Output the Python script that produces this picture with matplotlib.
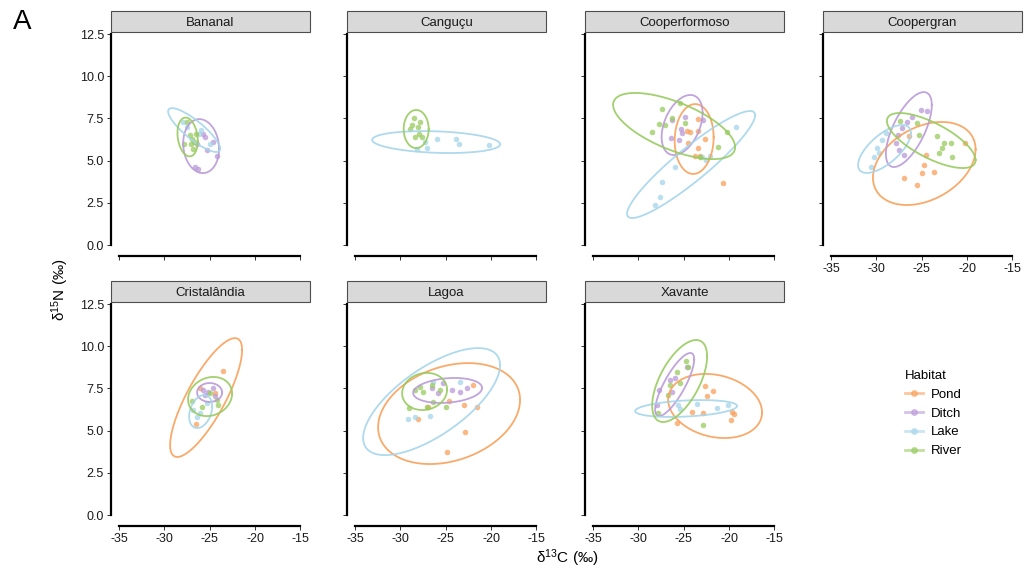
import numpy as np
import matplotlib.pyplot as plt
from matplotlib.lines import Line2D
from matplotlib.patches import Rectangle

plt.rcParams["font.family"] = ["Liberation Sans", "DejaVu Sans"]
plt.rcParams["mathtext.fontset"] = "custom"
plt.rcParams["mathtext.rm"] = "Liberation Sans"
plt.rcParams["mathtext.default"] = "regular"
plt.rcParams["axes.unicode_minus"] = False

sites = ["Bananal", "Canguçu", "Cooperformoso", "Coopergran",
         "Cristalândia", "Lagoa", "Xavante"]
habitats = ["Pond", "Ditch", "Lake", "River"]
habitat_colors = ["#F9A15B", "#B99AD8", "#A6D5EA", "#98CB5F"]

x_ticks = [-35, -30, -25, -20, -15]
y_ticks = [0.0, 2.5, 5.0, 7.5, 10.0, 12.5]

# isotope samples per habitat: site -> (d13C, d15N)
pond_samples = {
    "Cooperformoso": ([-23.4, -24.6, -24.3, -23.4, -22.65, -24.5, -23.4, -23.75, -23.2, -20.67],
                      [7.46, 6.75, 6.69, 6.75, 6.28, 6.04, 5.75, 5.27, 5.27, 3.67]),
    "Coopergran": ([-24.56, -24.78, -23.68, -25.0, -26.98, -25.55, -20.27, -26.43],
                   [5.33, 4.74, 4.32, 4.27, 3.97, 3.55, 6.04, 6.46]),
    "Cristalândia": ([-23.53, -26.51, -26.07, -24.42],
                     [8.53, 5.39, 7.52, 7.23]),
    "Lagoa": ([-28.05, -26.95, -22.98, -21.55, -22.87, -24.86, -22.0, -24.64],
              [5.69, 6.4, 6.52, 6.4, 4.92, 3.73, 7.7, 6.75]),
    "Xavante": ([-22.65, -21.77, -22.43, -24.09, -22.87, -19.67, -19.45, -19.78, -25.74],
                [7.64, 7.35, 7.05, 6.1, 6.04, 6.1, 5.98, 5.63, 5.45]),
}
ditch_samples = {
    "Bananal": ([-25.8, -24.7, -25.3, -24.2, -26.6, -26.3, -26.4, -25.5],
                [6.6, 6.1, 5.6, 5.3, 4.6, 4.5, 6.0, 6.4]),
    "Cooperformoso": ([-26.3, -24.86, -25.3, -25.2, -26.4, -22.9, -25.5],
                      [7.4, 7.58, 6.87, 6.64, 6.34, 7.4, 6.2]),
    "Coopergran": ([-25.11, -24.45, -26.1, -26.65, -27.2, -27.6, -27.86, -27.5, -27.0],
                   [8.0, 7.94, 7.58, 7.29, 6.93, 6.52, 6.04, 5.63, 5.33]),
    "Cristalândia": ([-25.74, -25.19, -24.64, -25.52, -24.42],
                     [7.41, 7.29, 7.52, 7.11, 7.05]),
    "Lagoa": ([-24.3, -23.42, -22.65, -25.85, -25.3, -26.5],
              [7.41, 7.29, 7.52, 7.23, 7.82, 7.52]),
    "Xavante": ([-24.64, -26.5, -25.96, -26.29, -27.72, -27.94],
                [8.77, 8.0, 8.12, 7.29, 7.41, 6.52]),
}
lake_samples = {
    "Bananal": ([-27.5, -26.2, -25.0, -28.0, -26.0],
                [7.0, 6.6, 6.0, 7.3, 6.8]),
    "Canguçu": ([-27.3, -27.1, -26.0, -23.9, -23.5, -20.2, -28.2],
                [6.1, 5.75, 6.3, 6.3, 6.0, 5.9, 5.7]),
    "Cooperformoso": ([-19.2, -22.1, -22.5, -25.96, -27.4, -27.6, -28.2, -23.0],
                      [7.0, 5.27, 5.04, 4.62, 3.73, 2.84, 2.37, 5.21]),
    "Coopergran": ([-29.95, -29.73, -30.6, -28.96, -29.4, -30.27],
                   [5.75, 5.45, 4.62, 6.64, 6.22, 5.21]),
    "Cristalândia": ([-26.84, -26.07, -26.4, -25.3],
                     [6.22, 6.04, 5.81, 6.64]),
    "Lagoa": ([-29.16, -28.4, -26.73, -23.42, -26.4],
              [5.69, 5.81, 5.87, 7.88, 7.88]),
    "Xavante": ([-25.63, -23.53, -21.33, -20.12, -25.4],
                [6.52, 6.58, 6.34, 6.52, 6.28]),
}
river_samples = {
    "Bananal": ([-27.5, -27.2, -27.0, -27.1, -26.7, -26.9, -27.8, -26.5],
                [7.3, 6.5, 6.3, 6.0, 6.1, 5.7, 6.0, 6.6]),
    "Canguçu": ([-28.5, -27.9, -28.9, -28.0, -28.4, -27.6, -28.7, -28.1],
                [7.5, 7.3, 6.9, 6.6, 6.4, 6.4, 7.1, 7.0]),
    "Cooperformoso": ([-27.39, -28.5, -27.72, -27.06, -25.4, -20.23, -21.2, -23.2, -24.86, -26.3],
                      [8.06, 6.69, 7.17, 7.11, 8.41, 6.69, 5.81, 5.21, 7.23, 7.52]),
    "Coopergran": ([-27.4, -25.55, -25.33, -23.35, -22.58, -22.8, -23.13, -21.7, -21.81],
                   [7.35, 7.23, 6.52, 6.46, 6.04, 5.75, 5.45, 5.21, 6.04]),
    "Cristalândia": ([-26.95, -25.85, -24.09, -24.97, -24.2],
                     [6.75, 6.4, 6.52, 7.23, 6.81]),
    "Lagoa": ([-27.83, -27.5, -26.5, -28.4, -27.06, -29.05, -24.97, -25.6, -26.4],
              [7.58, 7.29, 7.7, 7.41, 6.4, 6.34, 6.4, 7.41, 6.69]),
    "Xavante": ([-24.75, -24.53, -25.74, -25.4, -26.5, -26.73, -27.83, -22.87],
                [9.12, 8.77, 8.47, 7.82, 7.7, 7.11, 6.04, 5.33]),
}

# standard ellipses: site -> (mean d13C, mean d15N, sd d13C, sd d15N, correlation)
pond_ellipses = {
    "Cooperformoso": (-23.86, 6.28, 2.15, 2.07, 0.05),
    "Coopergran": (-24.73, 4.83, 5.66, 2.46, 0.34),
    "Cristalândia": (-25.41, 6.96, 3.97, 3.52, 0.80),
    "Lagoa": (-24.64, 6.01, 7.83, 2.99, 0.27),
    "Xavante": (-21.55, 6.46, 5.18, 1.90, -0.20),
}
ditch_ellipses = {
    "Bananal": (-25.96, 5.86, 1.98, 1.60, -0.10),
    "Cooperformoso": (-25.19, 7.11, 2.26, 1.78, 0.40),
    "Coopergran": (-26.43, 6.84, 2.53, 2.22, 0.65),
    "Cristalândia": (-25.02, 7.26, 1.38, 0.56, 0.0),
    "Lagoa": (-24.80, 7.38, 3.80, 0.74, 0.20),
    "Xavante": (-26.01, 7.73, 2.15, 1.87, 0.80),
}
lake_ellipses = {
    "Bananal": (-26.73, 6.81, 2.87, 1.30, -0.85),
    "Canguçu": (-26.07, 6.10, 7.06, 0.65, -0.20),
    "Cooperformoso": (-24.20, 4.77, 7.06, 3.17, 0.92),
    "Coopergran": (-29.12, 5.69, 2.91, 1.42, 0.67),
    "Cristalândia": (-26.01, 6.13, 1.27, 0.98, 0.30),
    "Lagoa": (-26.57, 6.72, 7.55, 3.17, 0.68),
    "Xavante": (-24.75, 6.31, 5.62, 0.50, 0.30),
}
river_ellipses = {
    "Bananal": (-27.45, 6.40, 1.12, 1.15, -0.20),
    "Canguçu": (-28.27, 6.87, 1.38, 1.13, 0.0),
    "Cooperformoso": (-26.07, 7.05, 6.73, 1.96, -0.64),
    "Coopergran": (-23.96, 6.19, 4.89, 1.63, -0.71),
    "Cristalândia": (-24.97, 7.02, 2.43, 1.16, 0.15),
    "Lagoa": (-27.34, 7.32, 2.48, 1.10, 0.10),
    "Xavante": (-25.46, 7.94, 3.03, 2.43, 0.60),
}

samples = [pond_samples, ditch_samples, lake_samples, river_samples]
ellipses = [pond_ellipses, ditch_ellipses, lake_ellipses, river_ellipses]

W, H = 1029, 576
COL_LEFT = [111, 347, 585, 823]
ROW_TOP = [32, 302]
PANEL_W, PANEL_H, STRIP_H = 199, 224, 21


def ellipse_path(mx, my, sx, sy, r, n=200):
    t = np.linspace(0, 2 * np.pi, n)
    x = mx + sx * np.cos(t)
    y = my + sy * (r * np.cos(t) + np.sqrt(1 - r ** 2) * np.sin(t))
    return x, y


def add_strip(ax, label):
    ax.add_patch(Rectangle((0, 1), 1, STRIP_H / PANEL_H, transform=ax.transAxes,
                           facecolor="#D9D9D9", edgecolor="#4D4D4D", linewidth=0.8,
                           clip_on=False))
    ax.text(0.5, 1 + STRIP_H / PANEL_H / 2, label, transform=ax.transAxes,
            ha="center", va="center_baseline", fontsize=9.5, color="#1A1A1A")


def main():
    fig = plt.figure(figsize=(W / 100, H / 100), dpi=100)

    for i, site in enumerate(sites):
        row, col = divmod(i, 4)
        left = COL_LEFT[col] / W
        bottom = 1 - (ROW_TOP[row] + PANEL_H) / H
        ax = fig.add_axes([left, bottom, PANEL_W / W, PANEL_H / H])

        for k, hab in enumerate(habitats):
            if site in samples[k]:
                xs, ys = samples[k][site]
                ax.scatter(xs, ys, s=16, color=habitat_colors[k], alpha=0.75,
                           linewidths=0, zorder=2)
        for k, hab in enumerate(habitats):
            if site in ellipses[k]:
                ex, ey = ellipse_path(*ellipses[k][site])
                ax.plot(ex, ey, color=habitat_colors[k], lw=1.3, alpha=0.9, zorder=3)

        ax.set_xlim(-35.9, -13.95)
        ax.set_ylim(-0.65, 12.62)
        ax.set_xticks(x_ticks)
        ax.set_yticks(y_ticks)
        ax.set_yticklabels([f"{v:.1f}" for v in y_ticks])
        for side in ("top", "right"):
            ax.spines[side].set_visible(False)
        ax.spines["left"].set_bounds(0, 12.5)
        ax.spines["bottom"].set_bounds(-35, -15)
        for side in ("left", "bottom"):
            ax.spines[side].set_linewidth(1.6)
            ax.spines[side].set_color("black")
        ax.tick_params(length=3, width=0.7, color="#333333", labelsize=9,
                       labelcolor="#1A1A1A", pad=2)
        show_x = row == 1 or col == 3
        ax.tick_params(axis="x", labelbottom=show_x)
        ax.tick_params(axis="y", labelleft=(col == 0))
        add_strip(ax, site)

    fig.text(22 / W, 1 - 22 / H, "A", fontsize=20, ha="center", va="center")
    fig.text(60 / W, 1 - 290 / H, "δ$^{15}$N (‰)", rotation=90, fontsize=11,
             ha="center", va="center")
    fig.text(567 / W, 1 - 558 / H, "δ$^{13}$C (‰)", fontsize=11,
             ha="center", va="center")

    handles = [Line2D([], [], color=c, lw=2, marker="o", markersize=4, alpha=0.6)
               for c in habitat_colors]
    fig.legend(handles, habitats, title="Habitat", loc="upper left",
               bbox_to_anchor=(893 / W, 1 - 358 / H), frameon=False,
               fontsize=9.5, title_fontsize=9.5, handlelength=1.4,
               handletextpad=0.6, labelspacing=0.5, alignment="left")

    fig.savefig("out.png", dpi=100)
    plt.close(fig)


if __name__ == "__main__":
    main()
